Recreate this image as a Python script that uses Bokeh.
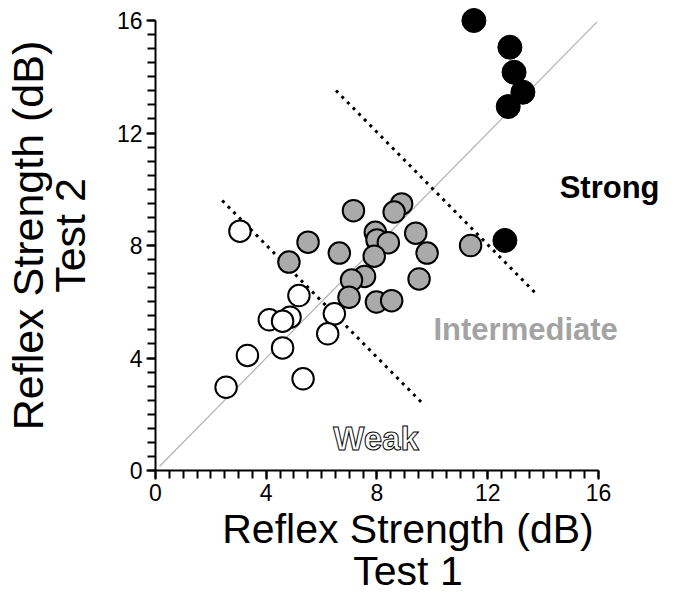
import math
from bokeh.plotting import figure
from bokeh.models import FixedTicker, Label, Range1d
from bokeh.embed import file_html
from bokeh.resources import INLINE

# ---- data ----
weak_x = [3.05, 5.18, 4.86, 4.11, 4.59, 6.46, 6.22, 4.59, 3.32, 2.55, 5.33]
weak_y = [8.51, 6.22, 5.45, 5.36, 5.31, 5.57, 4.86, 4.36, 4.09, 2.96, 3.26]

inter_x = [8.89, 8.62, 7.15, 7.94, 8.00, 8.41, 9.40, 9.81, 5.51, 6.64, 4.82, 7.90,
           7.55, 7.08, 6.99, 7.98, 8.53, 9.52, 11.38]
inter_y = [9.48, 9.19, 9.24, 8.47, 8.20, 8.10, 8.44, 7.73, 8.12, 7.73, 7.41, 7.62,
           6.90, 6.77, 6.16, 5.99, 6.04, 6.81, 8.00]

strong_x = [11.50, 12.80, 12.95, 13.27, 12.74, 12.62]
strong_y = [16.00, 15.05, 14.16, 13.45, 12.94, 8.18]

# category boundaries (dotted lines)
bound_x0 = [2.41, 6.52]
bound_y0 = [9.60, 13.51]
bound_x1 = [9.72, 13.81]
bound_y1 = [2.31, 6.22]

# identity line
diag = [0.15, 15.95]

tick_vals = [0, 4, 8, 12, 16]
minor_vals = [i * 0.5 for i in range(33)]

x_title = "Reflex Strength (dB)\nTest 1"
y_title = "Reflex Strength (dB)\nTest 2"

# ---- figure ----
PX = 28.125  # pixels per dB
W, H = 660, 596
left, bottom = 147, 126
frame_w = W - left
frame_h = H - bottom

p = figure(width=W, height=H, output_backend="svg", toolbar_location=None,
           x_range=Range1d(0, frame_w / PX), y_range=Range1d(0, frame_h / PX),
           min_border_left=left, min_border_bottom=bottom,
           min_border_top=0, min_border_right=0)
p.outline_line_color = None
p.xgrid.visible = False
p.ygrid.visible = False
p.background_fill_color = "white"
p.border_fill_color = "white"

for ax in (p.xaxis[0], p.yaxis[0]):
    ax.bounds = (0, 16)
    ax.ticker = FixedTicker(ticks=tick_vals, minor_ticks=minor_vals)
    ax.axis_line_width = 2
    ax.axis_line_color = "black"
    ax.major_tick_line_width = 2
    ax.minor_tick_line_width = 2
    ax.major_tick_in = 0
    ax.major_tick_out = 9
    ax.minor_tick_in = 0
    ax.minor_tick_out = 8
    ax.major_label_text_font = "Liberation Sans"
    ax.major_label_text_font_size = "23px"
    ax.major_label_text_color = "black"
    ax.major_label_standoff = 4
    ax.axis_label_text_font = "Liberation Sans"
    ax.axis_label_text_font_style = "normal"
    ax.axis_label_text_color = "black"
    ax.axis_label_text_align = "center"

p.xaxis[0].axis_label = x_title
p.xaxis[0].axis_label_text_font_size = "41px"
p.xaxis[0].axis_label_text_line_height = 0.92
p.xaxis[0].axis_label_standoff = 2

p.yaxis[0].axis_label = y_title
p.yaxis[0].axis_label_text_font_size = "43px"
p.yaxis[0].axis_label_text_line_height = 0.88
p.yaxis[0].axis_label_standoff = 20

# identity line
p.line(diag, diag, line_color="#b4b4b4", line_width=1.3)

# dotted boundaries
p.segment(bound_x0, bound_y0, bound_x1, bound_y1, line_color="black",
          line_width=3, line_dash="3 5")

# points
p.scatter(weak_x, weak_y, size=21.5, fill_color="white", line_color="black", line_width=2)
p.scatter(inter_x, inter_y, size=21.5, fill_color="#aaaaaa", line_color="black", line_width=2)
p.scatter(strong_x, strong_y, size=24, fill_color="black", line_color="black", line_width=1)

def dx(px):
    return (px - 155) / PX

def dy(py):
    return (470 - py) / PX

# category labels
p.add_layout(Label(x=dx(667), y=dy(187), text="Strong", text_align="right",
                   text_baseline="alphabetic", text_font="Liberation Sans",
                   text_font_style="bold", text_font_size="31px", text_color="black"))
p.add_layout(Label(x=dx(531), y=dy(329), text="Intermediate", text_align="center",
                   text_baseline="alphabetic", text_font="Liberation Sans",
                   text_font_style="bold", text_font_size="31px", text_color="#a3a3a3"))
p.add_layout(Label(x=dx(379), y=dy(438), text="Weak", text_align="center",
                   text_baseline="alphabetic", text_font="Liberation Sans",
                   text_font_style="bold", text_font_size="33px", text_color="white",
                   text_outline_color="black"))

open("out.html", "w").write(file_html(p, INLINE))
